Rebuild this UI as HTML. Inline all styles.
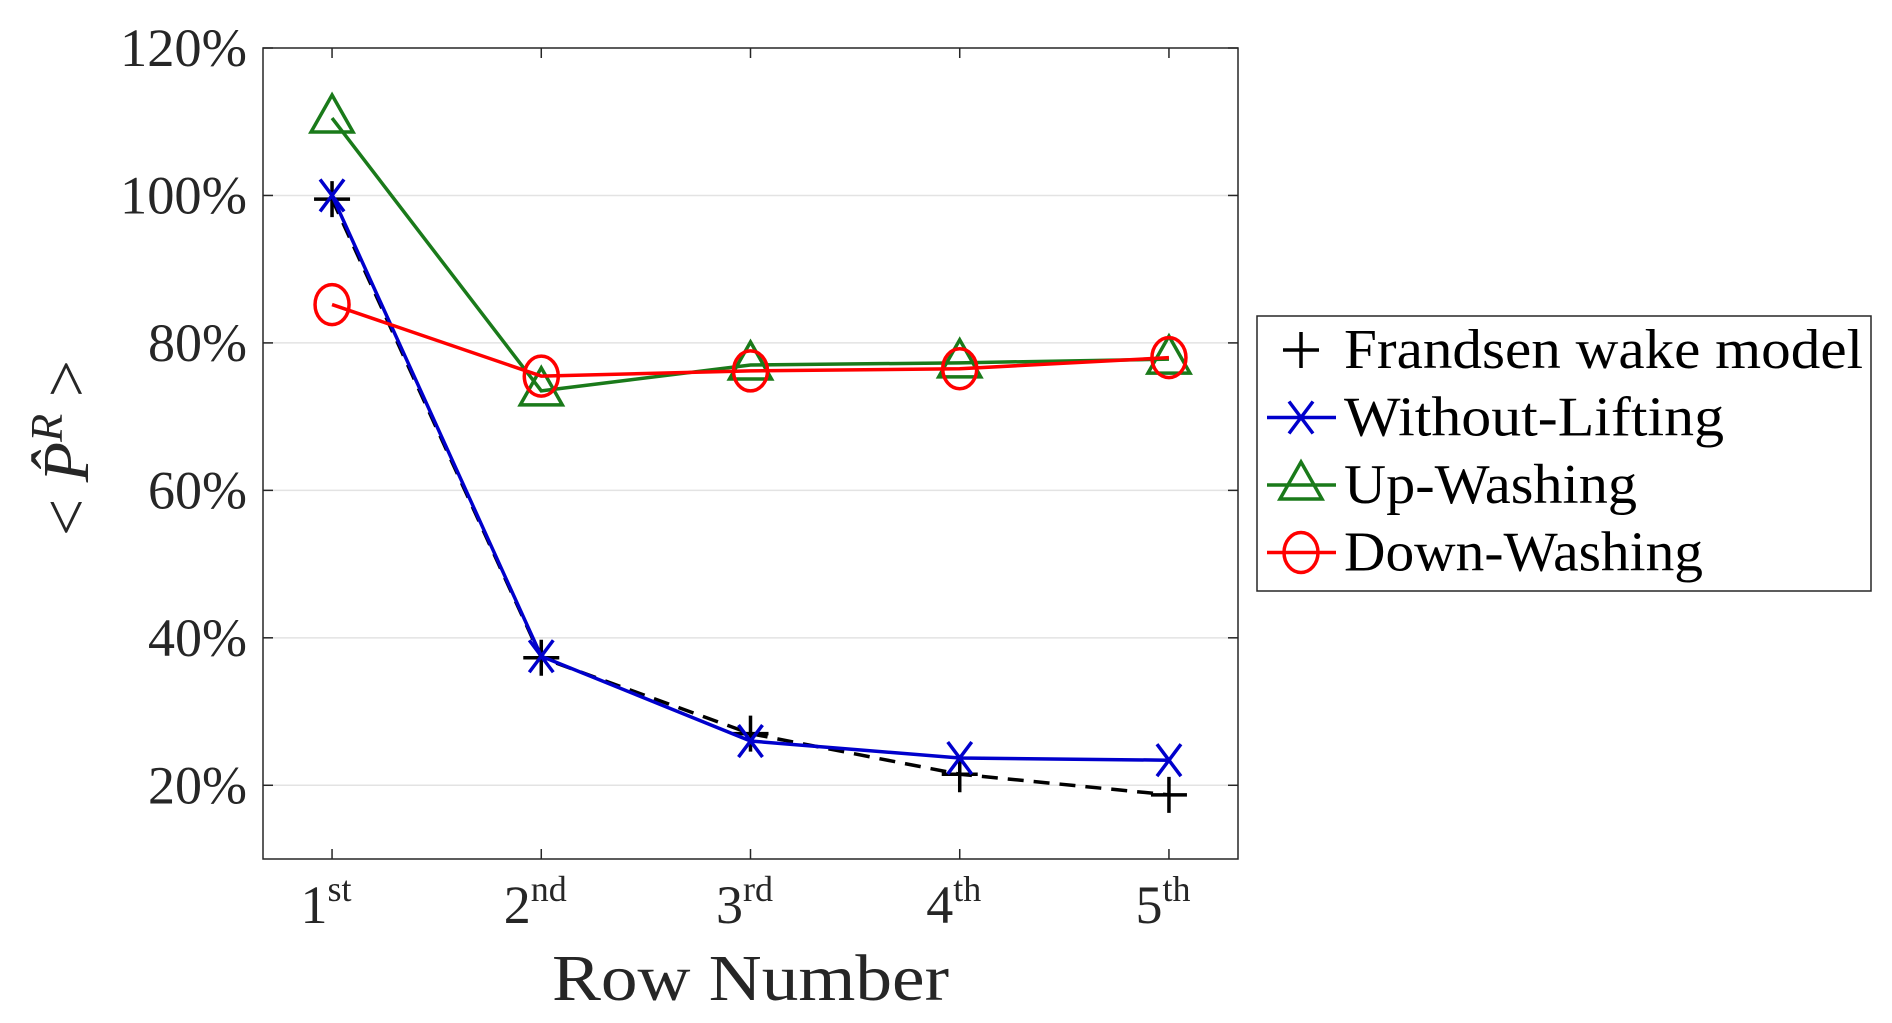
<!DOCTYPE html>
<html><head><meta charset="utf-8">
<style>
body{margin:0;background:#fff;}
svg{display:block;font-family:"Liberation Serif",serif;}
</style></head>
<body>
<svg id="chart" width="1892" height="1023" viewBox="0 0 1892 1023">
<g id="grid"></g>
<g id="axes"></g>
<g id="series"></g>
<g id="legend"></g>
</svg>
<script>
const categories = ["1","2","3","4","5"];
const suffixes = ["st","nd","rd","th","th"];
const frandsen = [99.5, 37.3, 27.0, 21.5, 18.7];
const withoutLifting = [100.0, 37.5, 26.0, 23.7, 23.4];
const upWashing = [110.5, 73.5, 77.0, 77.3, 77.8];
const downWashing = [85.2, 75.5, 76.2, 76.5, 78.0];
const yTicks = [20, 40, 60, 80, 100, 120];
const seriesNames = ["Frandsen wake model","Without-Lifting","Up-Washing","Down-Washing"];
const legendWidths = [519, 380, 293, 359];

const NS="http://www.w3.org/2000/svg";
const L=263,R=1238,T=48,B=859;
const xMin=0.67,xMax=5.33,yMin=10,yMax=120;
const X=i=>L+(i+1-xMin)/(xMax-xMin)*(R-L);
const Y=v=>B-(v-yMin)/(yMax-yMin)*(B-T);
function mk(tag,attrs,parent){const e=document.createElementNS(NS,tag);for(const k in attrs)e.setAttribute(k,attrs[k]);parent.appendChild(e);return e;}
const grid=document.getElementById('grid'),axes=document.getElementById('axes'),ser=document.getElementById('series'),leg=document.getElementById('legend');

yTicks.forEach(v=>{
  if(v<120){const g=mk('line',{x1:L,x2:R,y1:Y(v),y2:Y(v),stroke:'#e3e3e3','stroke-width':1.5},grid);
  
  }
  const t1=mk('line',{x1:L,x2:L+10,y1:Y(v),y2:Y(v),stroke:'#262626','stroke-width':1.5},axes);
  
  
  const t2=mk('line',{x1:R,x2:R-10,y1:Y(v),y2:Y(v),stroke:'#262626','stroke-width':1.5},axes);
  
  
  const w = v>=100?127:99;
  const tx=mk('text',{x:L-16,y:Y(v)+18,'text-anchor':'end','font-size':54,fill:'#262626',textLength:w,lengthAdjust:'spacingAndGlyphs'},axes);
  tx.textContent=v+'%';
  
  
});
categories.forEach((c,i)=>{
  const t1=mk('line',{x1:X(i),x2:X(i),y1:B,y2:B-10,stroke:'#262626','stroke-width':1.5},axes);
  
  
  const t2=mk('line',{x1:X(i),x2:X(i),y1:T,y2:T+10,stroke:'#262626','stroke-width':1.5},axes);
  
  
  const tx=mk('text',{x:X(i)-6,y:B+64,'text-anchor':'middle','font-size':54,fill:'#262626'},axes);
  
  
  const a=mk('tspan',{},tx);a.textContent=c;
  const b=mk('tspan',{dy:-22,'font-size':36},tx);b.textContent=suffixes[i];
});
const box=mk('rect',{x:L,y:T,width:R-L,height:B-T,fill:'none',stroke:'#262626','stroke-width':1.5},axes);


const xl=mk('text',{x:(L+R)/2,y:1000,'text-anchor':'middle','font-size':66,fill:'#262626',textLength:397,lengthAdjust:'spacingAndGlyphs'},axes);
xl.textContent='Row Number';


const yl=mk('text',{x:0,y:0,'text-anchor':'middle','font-size':66,fill:'#262626',transform:'translate(88,448) rotate(-90)'},axes);


const y1=mk('tspan',{},yl);y1.textContent='< ';
const y2=mk('tspan',{'font-style':'italic'},yl);y2.textContent='P\u0302';
const y3=mk('tspan',{dy:-26,'font-size':46,'font-style':'italic'},yl);y3.textContent='R';
const y4=mk('tspan',{dy:26},yl);y4.textContent=' >';

function marker(type,cx,cy,color,parent){
  const sw=3.5;
  if(type==='plus'){mk('path',{d:`M${cx-18},${cy}H${cx+18}M${cx},${cy-18}V${cy+18}`,stroke:color,'stroke-width':sw,fill:'none'},parent);}
  else if(type==='x'){mk('path',{d:`M${cx-12},${cy-16}L${cx+12},${cy+16}M${cx+12},${cy-16}L${cx-12},${cy+16}`,stroke:color,'stroke-width':sw,fill:'none'},parent);}
  else if(type==='tri'){mk('path',{d:`M${cx},${cy-23}L${cx+21},${cy+14}L${cx-21},${cy+14}Z`,stroke:color,'stroke-width':sw,fill:'none'},parent);}
  else {mk('ellipse',{cx:cx,cy:cy,rx:17,ry:20,stroke:color,'stroke-width':sw,fill:'none'},parent);}
}
const defs=[
 {vals:frandsen,color:'#000000',dash:'16,10',m:'plus',name:'frandsen'},
 {vals:withoutLifting,color:'#0000cc',dash:'',m:'x',name:'without-lifting'},
 {vals:upWashing,color:'#1a7a1a',dash:'',m:'tri',name:'up-washing'},
 {vals:downWashing,color:'#ff0000',dash:'',m:'circ',name:'down-washing'}];
defs.forEach(s=>{
  const g=mk('g',{},ser);
  
  
  const pts=s.vals.map((v,i)=>X(i)+','+Y(v)).join(' ');
  const pl=mk('polyline',{points:pts,fill:'none',stroke:s.color,'stroke-width':3.5,'stroke-dasharray':s.dash},g);
  
  
  s.vals.forEach((v,i)=>marker(s.m,X(i),Y(v),s.color,g));
});
const lb=mk('rect',{x:1257,y:316,width:614,height:275,fill:'#fff',stroke:'#262626','stroke-width':1.5},leg);


seriesNames.forEach((n,k)=>{
  const s=defs[k];const cy=350+k*67.5;
  const g=mk('g',{},leg);
  
  
  if(k>0)mk('line',{x1:1267,x2:1336,y1:cy,y2:cy,stroke:s.color,'stroke-width':3.5},g);
  marker(s.m,1301,cy,s.color,g);
  const t=mk('text',{x:1344,y:cy+18,'font-size':56,fill:'#000',textLength:legendWidths[k],lengthAdjust:'spacingAndGlyphs'},g);t.textContent=n;
});
</script>
</body></html>
